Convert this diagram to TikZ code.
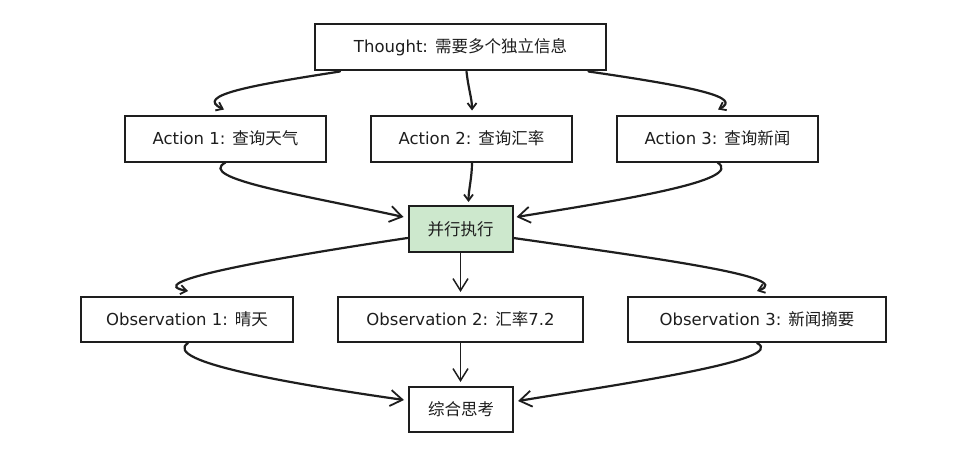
\documentclass[tikz,border=0pt]{standalone}
\usepackage{fontspec}
\setmainfont{DejaVu Sans}
\newfontfamily\cjk{Noto Sans CJK SC}
\usetikzlibrary{arrows.meta,calc}
\definecolor{ink}{HTML}{1E1E1E}
\definecolor{greenfill}{HTML}{CDE8CD}
\tikzset{
  box/.style={draw=ink, line width=2pt, fill=white, minimum height=46pt, inner sep=0pt, text=ink, font=\fontsize{16.5}{20}\selectfont},
  greenbox/.style={box, fill=greenfill},
  conn/.style={draw=ink, line width=2.2pt, line cap=round, -{Straight Barb[length=12pt,width=16pt,line width=1.8pt]}},
  straightconn/.style={draw=ink, line width=1.5pt, line cap=round, -{Straight Barb[length=12pt,width=15pt,line width=1.5pt]}},
  hook/.style={draw=ink, line width=2.2pt, line cap=round, -{Straight Barb[length=6pt,width=9pt,line width=1.8pt]}}
}
\begin{document}
\begin{tikzpicture}[x=1pt,y=-1pt]
\useasboundingbox[fill=white] (0,0) rectangle (975,460);
% nodes
\node[box, minimum width=291pt] (thought) at (460.5,47.5) {Thought: {\cjk 需要多个独立信息}};
\node[box, minimum width=201pt] (a1) at (225.5,138.5) {Action 1: {\cjk 查询天气}};
\node[box, minimum width=201pt] (a2) at (471.5,138.5) {Action 2: {\cjk 查询汇率}};
\node[box, minimum width=201pt] (a3) at (717.5,138.5) {Action 3: {\cjk 查询新闻}};
\node[greenbox, minimum width=104pt] (par) at (460.5,229) {\cjk 并行执行};
\node[box, minimum width=212pt, minimum height=45pt] (o1) at (187,319.5) {Observation 1: {\cjk 晴天}};
\node[box, minimum width=245pt, minimum height=45pt] (o2) at (460.5,319.5) {Observation 2: {\cjk 汇率}7.2};
\node[box, minimum width=258pt, minimum height=45pt] (o3) at (757,319.5) {Observation 3: {\cjk 新闻摘要}};
\node[box, minimum width=104pt, minimum height=45pt] (syn) at (461,409.5) {\cjk 综合思考};
% connectors: Thought -> actions
\draw[hook] ($(thought.south)+(-120.5,0)$) .. controls +(-90,14) and +(-30,-14) .. ($(a1.north)+(-1.5,-5)$);
\draw[hook] ($(thought.south)+(6,0)$) .. controls +(2,18) and +(0,-12) .. ($(a2.north)+(0.5,-4)$);
\draw[hook] ($(thought.south)+(128,0)$) .. controls +(110,16) and +(24,-12) .. ($(a3.north)+(0.5,-5)$);
% actions -> parallel
\draw[conn] (a1.south) .. controls +(-30,16) and +(-100,-22) .. ($(par.west)+(-4,-12)$);
\draw[hook] ($(a2.south)+(0.5,0)$) .. controls +(0,15) and +(0,-12) .. ($(par.north)+(8,-3)$);
\draw[conn] (a3.south) .. controls +(28,18) and +(105,-17) .. ($(par.east)+(3,-12)$);
% parallel -> observations
\draw[hook] ($(par.west)+(0,9)$) .. controls +(-160,24) and +(-45,-8) .. ($(o1.north)+(1,-5)$);
\draw[straightconn] (par.south) -- ($(o2.north)+(0,-4)$);
\draw[hook] ($(par.east)+(0,9)$) .. controls +(140,20) and +(40,-14) .. ($(o3.north)+(0,-5)$);
% observations -> synthesis
\draw[conn] ($(o1.south)+(1,0)$) .. controls +(-28,19) and +(-105,-15) .. ($(syn.west)+(-4,-9.5)$);
\draw[straightconn] (o2.south) -- ($(syn.north)+(-0.5,-4)$);
\draw[conn] (o3.south) .. controls +(33,17) and +(103,-17) .. ($(syn.east)+(4,-8.5)$);
\end{tikzpicture}
\end{document}
